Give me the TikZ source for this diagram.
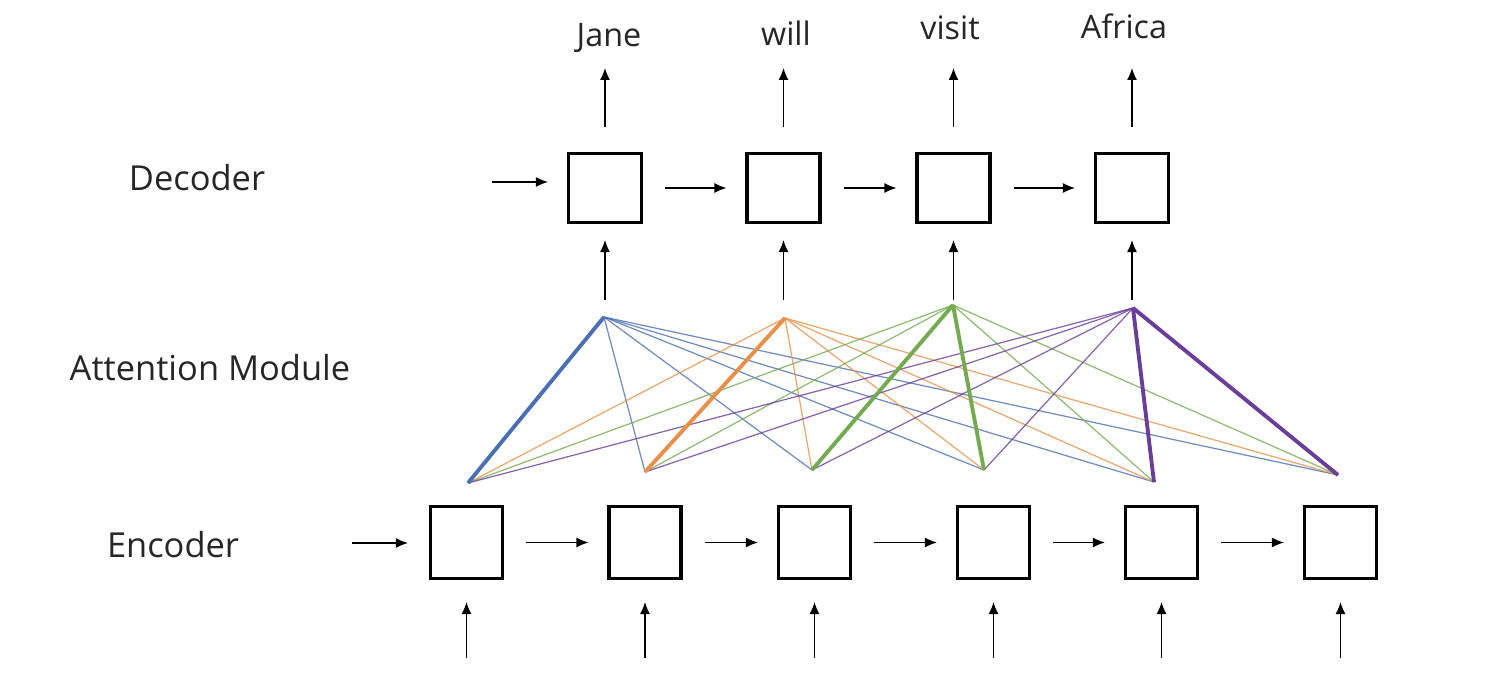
\documentclass[tikz,border=0pt]{standalone}
\usepackage{fontspec}
\setmainfont{Open Sans}
\usetikzlibrary{arrows.meta}
\definecolor{attblue}{HTML}{4A6FB5}
\definecolor{attorange}{HTML}{E8904A}
\definecolor{attgreen}{HTML}{74AA50}
\definecolor{attpurple}{HTML}{6A3D9A}
\tikzset{
  cell/.style={rectangle, draw=black, line width=0.9pt, inner sep=0pt},
  deccell/.style={cell, minimum width=0.73cm, minimum height=0.69cm},
  enccell/.style={cell, minimum width=0.72cm, minimum height=0.72cm},
  flow/.style={-{Latex[length=0.12cm,width=0.1cm]}, line width=0.35pt},
  weak/.style={line width=0.35pt, draw opacity=0.8},
  strong/.style={line width=1.1pt},
  word/.style={inner sep=0pt, font=\fontsize{9.2}{11}\selectfont, text=black!85},
  side/.style={inner sep=0pt, font=\fontsize{9.8}{12}\selectfont, text=black!85}
}

\begin{document}
\begin{tikzpicture}
        \useasboundingbox (0,0) rectangle (15,-6.9);

        % labels on the left
        \node[side] (ldec) at (1.97,-1.78) {Decoder};
        \node[side] (latt) at (2.10,-3.68) {Attention Module};
        \node[side] (lenc) at (1.73,-5.45) {Encoder};

        % decoder
        \node[deccell] (d1) at (6.05,-1.88) {};
        \node[deccell] (d2) at (7.835,-1.88) {};
        \node[deccell] (d3) at (9.535,-1.88) {};
        \node[deccell] (d4) at (11.32,-1.88) {};

        % encoder
        \node[enccell] (e1) at (4.665,-5.425) {};
        \node[enccell] (e2) at (6.45,-5.425) {};
        \node[enccell] (e3) at (8.145,-5.425) {};
        \node[enccell] (e4) at (9.935,-5.425) {};
        \node[enccell] (e5) at (11.615,-5.425) {};
        \node[enccell] (e6) at (13.405,-5.425) {};

        % output words
        \node[word] (w1) at (6.09,-0.38) {Jane};
        \node[word] (w2) at (7.86,-0.33) {will};
        \node[word] (w3) at (9.50,-0.28) {visit};
        \node[word] (w4) at (11.24,-0.26) {Africa};

        % attention points
        \coordinate (t1) at (6.04,-3.17);
        \coordinate (t2) at (7.85,-3.18);
        \coordinate (t3) at (9.53,-3.05);
        \coordinate (t4) at (11.33,-3.08);
        \coordinate (b1) at (4.68,-4.83);
        \coordinate (b2) at (6.45,-4.72);
        \coordinate (b3) at (8.12,-4.70);
        \coordinate (b4) at (9.84,-4.70);
        \coordinate (b5) at (11.54,-4.82);
        \coordinate (b6) at (13.38,-4.75);

        % free arrow ends
        \coordinate (ds) at (4.92,-1.82);
        \coordinate (es) at (3.52,-5.43);
        \foreach \i/\x in {1/6.05, 2/7.835, 3/9.535, 4/11.32} {
          \coordinate (o\i) at (\x,-0.68);
          \coordinate (a\i) at (\x,-3.00);
        }
        \foreach \i/\x in {1/4.665, 2/6.45, 3/8.145, 4/9.935, 5/11.615, 6/13.405}
          \coordinate (i\i) at (\x,-6.58);

        \foreach \t/\c in {t1/attblue, t2/attorange, t3/attgreen, t4/attpurple}
          \foreach \b in {b1, b2, b3, b4, b5, b6}
            \draw[weak, draw=\c] (\t) -- (\b);

        \foreach \t/\b/\c in {
          t1/b1/attblue,
          t2/b2/attorange,
          t3/b3/attgreen, t3/b4/attgreen,
          t4/b5/attpurple, t4/b6/attpurple}
        \draw[strong, draw=\c] (\t) -- (\b);

        \draw[flow, shorten >=0.19cm] (ds) -- (d1.west |- ds);
        \draw[flow, shorten >=0.21cm] (es) -- (e1.west |- es);

        \foreach \from/\to in {d1/d2, d2/d3, d3/d4, e1/e2, e2/e3, e3/e4, e4/e5, e5/e6}
        \draw[flow, shorten <=0.22cm, shorten >=0.19cm] (\from.east) -- (\to.west);

        \foreach \i in {1, 2, 3, 4} {
          \draw[flow, shorten <=0.25cm] (d\i.north) -- (o\i);
          \draw[flow, shorten >=0.16cm] (a\i) -- (d\i.south);
        }
        \foreach \i in {1, 2, 3, 4, 5, 6}
        \draw[flow, shorten >=0.22cm] (i\i) -- (e\i.south);
      \end{tikzpicture}
\end{document}
